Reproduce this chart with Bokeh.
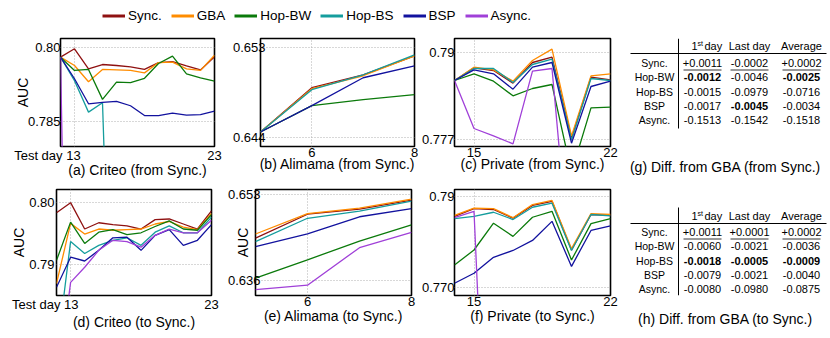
from bokeh.plotting import figure
from bokeh.layouts import row, column
from bokeh.models import Range1d, FixedTicker, Legend, LegendItem, ColumnDataSource
from bokeh.core.properties import value
from bokeh.embed import file_html
from bokeh.resources import INLINE

FONT = "Liberation Sans"
NBSP = "\u00a0"

series_names = ["Sync.", "GBA", "Hop-BW", "Hop-BS", "BSP", "Async."]
series_colors = ["#8f1111", "#ff8c00", "#0b7a0b", "#159d9d", "#12129e", "#a040d8"]

# ---------------- (a) Criteo (from Sync.) ----------------
a_days = [12, 13, 14, 15, 16, 17, 18, 19, 20, 21, 22, 23]
a_sync = [0.7981, 0.7998, 0.7957, 0.7966, 0.7964, 0.7961, 0.7956, 0.7970, 0.7972, 0.7963, 0.7955, 0.7982]
a_gba = [0.7981, 0.7964, 0.7931, 0.7956, 0.7955, 0.7954, 0.7949, 0.7970, 0.7971, 0.7957, 0.7954, 0.7985]
a_hopbw = [0.7981, 0.7954, 0.7956, 0.7895, 0.7930, 0.7929, 0.7938, 0.7968, 0.7983, 0.7947, 0.7939, 0.7932]
a_hopbs = [0.7981, 0.7933, 0.7869, 0.7888, 0.7021, 0.7008, 0.7012, 0.7005, 0.7010, 0.7003, 0.7007, 0.7006]
a_bsp = [0.7981, 0.7937, 0.7886, 0.7889, 0.7891, 0.7882, 0.7862, 0.7862, 0.7867, 0.7863, 0.7864, 0.7871]
a_async = [0.7981, 0.6468, 0.6462, 0.6465, 0.6460, 0.6463, 0.6466, 0.6461, 0.6464, 0.6459, 0.6462, 0.6443]

# ---------------- (b) Alimama (from Sync.) ----------------
b_days = [5, 6, 7, 8]
b_sync = [0.64454, 0.6490, 0.6503, 0.6522]
b_gba = [0.64454, 0.6489, 0.6502, 0.6522]
b_hopbw = [0.64454, 0.6472, 0.6478, 0.6483]
b_hopbs = [0.64454, 0.6488, 0.6503, 0.6523]
b_bsp = [0.64454, 0.6472, 0.6500, 0.6512]

# ---------------- (c) Private (from Sync.) ----------------
c_days = [14, 15, 16, 17, 18, 19, 20, 21, 22]
c_sync = [0.7858, 0.7877, 0.7873, 0.7854, 0.7885, 0.7893, 0.7771, 0.7863, 0.7859]
c_gba = [0.7858, 0.7878, 0.7874, 0.7857, 0.7888, 0.7905, 0.7775, 0.7865, 0.7868]
c_hopbw = [0.7858, 0.7868, 0.7857, 0.7835, 0.7846, 0.7852, 0.7720, 0.7817, 0.7818]
c_hopbs = [0.7858, 0.7876, 0.7876, 0.7855, 0.7882, 0.7890, 0.7769, 0.7861, 0.7858]
c_bsp = [0.7858, 0.7874, 0.7868, 0.7845, 0.7878, 0.7885, 0.7764, 0.7849, 0.7857]
c_async = [0.7858, 0.7786, 0.7775, 0.7763, 0.7872, 0.7876, 0.7552, 0.7521, 0.7540]

# ---------------- (d) Criteo (to Sync.) ----------------
d_days = [12, 13, 14, 15, 16, 17, 18, 19, 20, 21, 22, 23]
d_sync = [0.7983, 0.7999, 0.7957, 0.7967, 0.7964, 0.7962, 0.7957, 0.7972, 0.7973, 0.7965, 0.7957, 0.7986]
d_gba = [0.7870, 0.7966, 0.7949, 0.7957, 0.7955, 0.7956, 0.7957, 0.7965, 0.7969, 0.7960, 0.7956, 0.7982]
d_hopbw = [0.7907, 0.7968, 0.7934, 0.7952, 0.7956, 0.7948, 0.7951, 0.7961, 0.7970, 0.7957, 0.7955, 0.7980]
d_hopbs = [0.7756, 0.7937, 0.7918, 0.7931, 0.7939, 0.7943, 0.7931, 0.7952, 0.7962, 0.7951, 0.7951, 0.7976]
d_bsp = [0.7864, 0.7912, 0.7906, 0.7923, 0.7943, 0.7944, 0.7923, 0.7947, 0.7956, 0.7931, 0.7939, 0.7964]
d_async = [0.7694, 0.7872, 0.7896, 0.7923, 0.7939, 0.7937, 0.7928, 0.7947, 0.7957, 0.7951, 0.7951, 0.7971]

# ---------------- (e) Alimama (to Sync.) ----------------
e_days = [5, 6, 7, 8]
e_sync = [0.6444, 0.6491, 0.6501, 0.6519]
e_gba = [0.6452, 0.6492, 0.6503, 0.6521]
e_hopbw = [0.6365, 0.6401, 0.6438, 0.6470]
e_hopbs = [0.6437, 0.6483, 0.6497, 0.6517]
e_bsp = [0.6427, 0.6452, 0.6486, 0.6502]
e_async = [0.6342, 0.6351, 0.6425, 0.6455]

# ---------------- (f) Private (to Sync.) ----------------
f_days = [14, 15, 16, 17, 18, 19, 20, 21, 22]
f_sync = [0.7856, 0.7873, 0.7871, 0.7852, 0.7880, 0.7889, 0.7782, 0.7860, 0.7858]
f_gba = [0.7858, 0.7874, 0.7873, 0.7853, 0.7882, 0.7891, 0.7785, 0.7862, 0.7860]
f_hopbw = [0.7749, 0.7782, 0.7841, 0.7812, 0.7854, 0.7867, 0.7760, 0.7840, 0.7851]
f_hopbs = [0.7851, 0.7856, 0.7865, 0.7849, 0.7876, 0.7885, 0.7781, 0.7860, 0.7857]
f_bsp = [0.7709, 0.7731, 0.7766, 0.7781, 0.7803, 0.7845, 0.7746, 0.7825, 0.7835]
f_async = [0.7853, 0.7867, 0.6905, 0.6911, 0.6908, 0.6913, 0.6902, 0.6909, 0.6906]

# ---------------- tables ----------------
table_rows = ["Sync.", "Hop-BW", "Hop-BS", "BSP", "Async."]
table_cols = ["1st day", "Last day", "Average"]
g_first = ["+0.0011", "-0.0012", "-0.0015", "-0.0017", "-0.1513"]
g_last = ["-0.0002", "-0.0046", "-0.0979", "-0.0045", "-0.1542"]
g_avg = ["+0.0002", "-0.0025", "-0.0716", "-0.0034", "-0.1518"]
g_bold = [[False, True, False, False, False],
          [False, False, False, True, False],
          [False, True, False, False, False]]
h_first = ["+0.0011", "-0.0060", "-0.0018", "-0.0079", "-0.0080"]
h_last = ["+0.0001", "-0.0021", "-0.0005", "-0.0021", "-0.0980"]
h_avg = ["+0.0002", "-0.0036", "-0.0009", "-0.0040", "-0.0875"]
h_bold = [[False, False, True, False, False],
          [False, False, True, False, False],
          [False, False, True, False, False]]


def style_axis(ax):
    ax.axis_line_color = None
    ax.major_tick_line_color = None
    ax.minor_tick_line_color = None
    ax.major_tick_out = 0
    ax.major_tick_in = 0
    ax.major_label_text_font = FONT
    ax.major_label_text_font_size = "13px"
    ax.major_label_text_color = "black"
    ax.axis_label_text_font = FONT
    ax.axis_label_text_font_size = "14px"
    ax.axis_label_text_font_style = "normal"
    ax.axis_label_text_color = "black"


def make_panel(width, height, days, series, x_rng, y_rng, x_ticks, x_labels, y_ticks, y_labels,
               caption, mb, x_standoff, cap_standoff, y_standoff, auc_standoff=None):
    p = figure(width=width, height=height, output_backend="svg", toolbar_location=None,
               title=None, x_range=Range1d(*x_rng), y_range=Range1d(*y_rng),
               min_border_left=mb[0], min_border_right=mb[1],
               min_border_top=mb[2], min_border_bottom=mb[3])
    for name, color in zip(series_names, series_colors):
        if name in series:
            p.line(days, series[name], line_color=color, line_width=1.3)
    p.xaxis.ticker = FixedTicker(ticks=x_ticks)
    p.yaxis.ticker = FixedTicker(ticks=y_ticks)
    p.xaxis.major_label_overrides = {t: l for t, l in zip(x_ticks, x_labels)}
    p.yaxis.major_label_overrides = {t: l for t, l in zip(y_ticks, y_labels)}
    for ax in p.axis:
        style_axis(ax)
    p.xaxis.major_label_standoff = x_standoff
    p.yaxis.major_label_standoff = y_standoff
    p.xaxis.axis_label = caption
    p.xaxis.axis_label_standoff = cap_standoff
    if auc_standoff is not None:
        p.yaxis.axis_label = "AUC"
        p.yaxis.axis_label_standoff = auc_standoff
    p.grid.grid_line_color = "#b0b0b0"
    p.grid.grid_line_dash = "1 2"
    p.grid.grid_line_width = 1
    p.outline_line_color = "black"
    p.outline_line_width = 1.6
    p.outline_line_alpha = 1
    return p


def sdict(*vals):
    return {n: v for n, v in zip(series_names, vals) if v is not None}


# first tick label carries the "Test day" caption, padded so "13" stays centred on its tick
a_xlabels = ["Test day 13" + NBSP * 15, "23"]
d_xlabels = ["Test day 13" + NBSP * 14, "23"]

R1, R2 = 150, 156
pa = make_panel(222, R1, a_days, sdict(a_sync, a_gba, a_hopbw, a_hopbs, a_bsp, a_async),
                (12, 23), (0.7799, 0.8019), [13, 23], a_xlabels, [0.785, 0.8], ["0.785", "0.80"],
                "(a) Criteo (from Sync.)", (60, 8, 8, 34), 1, -4, 0, auc_standoff=-6)
pb = make_panel(196, R1, b_days, sdict(b_sync, b_gba, b_hopbw, b_hopbs, b_bsp, None),
                (5, 8), (0.64308, 0.65395), [6, 8], ["6", "8"], [0.644, 0.653], ["0.644", "0.653"],
                "(b) Alimama (from Sync.)", (38, 4, 8, 34), 1, -4, -5)
pc = make_panel(204, R1, c_days, sdict(c_sync, c_gba, c_hopbw, c_hopbs, c_bsp, c_async),
                (14, 22), (0.7759, 0.7921), [15, 22], ["15", "22"], [0.777, 0.79], ["0.777", "0.79"],
                "(c) Private (from Sync.)", (35, 12, 8, 34), 1, -4, 0)
pd_ = make_panel(220, R2, d_days, sdict(d_sync, d_gba, d_hopbw, d_hopbs, d_bsp, d_async),
                 (12, 23), (0.7851, 0.8020), [13, 23], d_xlabels, [0.79, 0.8], ["0.79", "0.80"],
                 "(d) Criteo (to Sync.)", (56, 9, 9, 41), 1, -1, 2, auc_standoff=-1)
pe = make_panel(198, R2, e_days, sdict(e_sync, e_gba, e_hopbw, e_hopbs, e_bsp, e_async),
                (5, 8), (0.63306, 0.65398), [6, 8], ["6", "8"], [0.636, 0.653], ["0.636", "0.653"],
                "(e) Alimama (to Sync.)", (35, 7, 9, 41), 1, -1, -5, auc_standoff=-26)
pf = make_panel(204, R2, f_days, sdict(f_sync, f_gba, f_hopbw, f_hopbs, f_bsp, f_async),
                (14, 22), (0.7682, 0.7915), [15, 22], ["15", "22"], [0.77, 0.79], ["0.770", "0.79"],
                "(f) Private (to Sync.)", (35, 12, 9, 41), 1, -1, 0)


def make_table(height, frame_top, frame_bot, mb_top, mb_bot, firsts, lasts, avgs, bolds,
               caption, cap_standoff, header_y, row0_y, row_gap, vl_top, vl_bot, hl_y):
    left, width = 622, 206
    t = figure(width=width, height=height, output_backend="svg", toolbar_location=None,
               title=None, x_range=Range1d(left, left + width),
               y_range=Range1d(frame_bot, frame_top),
               min_border_left=0, min_border_right=0, min_border_top=mb_top,
               min_border_bottom=mb_bot, y_axis_location=None)
    t.grid.visible = False
    t.outline_line_color = None
    t.xaxis.ticker = FixedTicker(ticks=[])
    style_axis(t.xaxis[0])
    t.xaxis.major_label_standoff = 0
    t.xaxis.axis_label = caption
    t.xaxis.axis_label_standoff = cap_standoff
    label_x = 654
    col_x = [702, 749, 801]
    ys = [row0_y + i * row_gap for i in range(len(table_rows))]
    fs = value("11px")
    t.text(x=[label_x] * len(table_rows), y=ys, text=table_rows, text_align="center",
           text_baseline="middle", text_font=value(FONT), text_font_size=value("10.5px"),
           text_color="black")
    xs, yy, txt, sty = [], [], [], []
    for ci, vals in enumerate([firsts, lasts, avgs]):
        for ri, v in enumerate(vals):
            xs.append(col_x[ci]); yy.append(ys[ri]); txt.append(v)
            sty.append("bold" if bolds[ci][ri] else "normal")
    src = ColumnDataSource(dict(x=xs, y=yy, text=txt, style=sty))
    t.text(x="x", y="y", text="text", text_font_style="style", source=src,
           text_align="center", text_baseline="middle", text_font=value(FONT),
           text_font_size=fs, text_color="black")
    # underline of the first row (Sync.)
    t.segment(x0=[c - 19 for c in col_x], y0=[ys[0] + 7] * 3,
              x1=[c + 19 for c in col_x], y1=[ys[0] + 7] * 3, line_color="black", line_width=0.8)
    # header "1st day" with superscript
    t.text(x=[col_x[0] - 5], y=[header_y], text=["1"], text_align="right", text_baseline="middle",
           text_font=value(FONT), text_font_size=fs, text_color="black")
    t.text(x=[col_x[0] - 5], y=[header_y - 3], text=["st"], text_align="left",
           text_baseline="middle", text_font=value(FONT), text_font_size=value("7px"),
           text_color="black")
    t.text(x=[col_x[0] + 2], y=[header_y], text=["day"], text_align="left",
           text_baseline="middle", text_font=value(FONT), text_font_size=fs, text_color="black")
    t.text(x=col_x[1:], y=[header_y] * 2, text=table_cols[1:], text_align="center",
           text_baseline="middle", text_font=value(FONT), text_font_size=fs, text_color="black")
    t.segment(x0=[678], y0=[vl_top], x1=[678], y1=[vl_bot], line_color="black", line_width=1)
    t.segment(x0=[630], y0=[hl_y], x1=[826], y1=[hl_y], line_color="black", line_width=1)
    return t


tg = make_table(R1, 38, 146, 8, 34, g_first, g_last, g_avg, g_bold,
                "(g) Diff. from GBA (from Sync.)", 12, 45.5, 62.5, 14.3, 38, 128, 53)
th = make_table(R2, 189, 295, 9, 41, h_first, h_last, h_avg, h_bold,
                "(h) Diff. from GBA (to Sync.)", 15, 215.5, 231.5, 14.3, 207, 295, 223)

# legend strip (its renderers sit outside the strip's visible range)
leg = figure(width=828, height=30, output_backend="svg", toolbar_location=None, title=None,
             x_range=Range1d(0, 1), y_range=Range1d(0, 1), min_border=0,
             x_axis_location=None, y_axis_location=None)
leg.grid.visible = False
leg.outline_line_color = None
items = []
for name, color, ys_ in zip(series_names, series_colors,
                            [a_sync, a_gba, a_hopbw, a_hopbs, a_bsp, a_async]):
    r = leg.line(x=a_days, y=ys_, line_color=color, line_width=3)
    items.append(LegendItem(label=name, renderers=[r]))
legend = Legend(items=items, orientation="horizontal", location=(102, 7),
                glyph_width=23, glyph_height=15, label_height=15, label_standoff=3,
                spacing=9, padding=0, margin=0, border_line_color=None,
                background_fill_alpha=0, label_text_font=FONT,
                label_text_font_size="13.5px", label_text_color="black")
leg.add_layout(legend)

layout = column(leg, row(pa, pb, pc, tg), row(pd_, pe, pf, th))
open("out.html", "w").write(file_html(layout, INLINE))
